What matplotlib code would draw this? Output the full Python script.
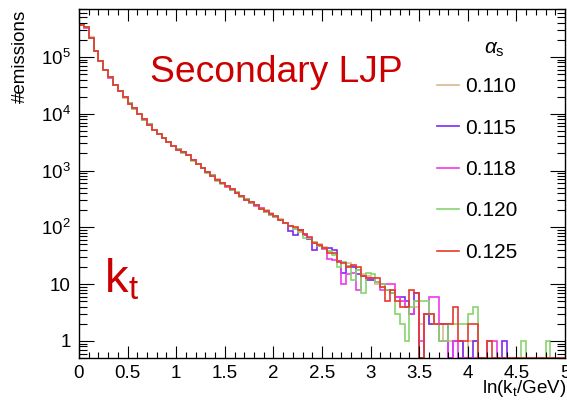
import numpy as np
import matplotlib
matplotlib.use("Agg")
import matplotlib.pyplot as plt
from matplotlib.ticker import MultipleLocator, LogLocator, FuncFormatter, NullFormatter

plt.rcParams['font.family'] = ['Liberation Sans', 'DejaVu Sans']
plt.rcParams['mathtext.fontset'] = 'custom'
plt.rcParams['mathtext.rm'] = 'Liberation Sans'
plt.rcParams['mathtext.it'] = 'Liberation Sans:italic'
plt.rcParams['mathtext.sf'] = 'Liberation Sans'

# Histogram binning in ln(kt/GeV)
x_min, x_max, n_bins = 0.0, 5.0, 100

alpha_labels = ["0.110", "0.115", "0.118", "0.120", "0.125"]

counts_0110 = [369500, 333000, 220400, 127500, 85800, 58400, 44000, 32100, 25350, 19300,
               15260, 12350, 9850, 7860, 6520, 5200, 4400, 3680, 3190, 2660,
               2370, 2060, 1890, 1535, 1280, 1115, 915, 830, 700, 610,
               535, 458, 415, 345, 318, 270, 252, 220, 200, 182,
               160, 138, 121, 106, 96, 90, 75, 66, 56, 50,
               45, 38, 34, 26, 25, 24, 21, 18, 15, 14,
               12, 10, 9, 8, 8, 6, 5, 4, 3, 4,
               2, 3, 2, 2, 2, 1, 1, 1, 1, 0,
               1, 1, 0, 0, 0, 0, 0, 0, 0, 0,
               0, 0, 0, 0, 0, 0, 0, 0, 0, 0]

counts_0115 = [370800, 331900, 219500, 128300, 85400, 58700, 43800, 32250, 25200, 19430,
               15190, 12400, 9800, 7910, 6480, 5230, 4380, 3700, 3170, 2680,
               2350, 2080, 1870, 1545, 1300, 1095, 925, 820, 680, 600,
               528, 462, 410, 350, 312, 272, 248, 210, 188, 166,
               150, 133, 118, 86, 72, 88, 74, 62, 40, 47,
               44, 43, 40, 26, 16, 21, 20, 15, 14, 12,
               12, 11, 10, 8, 7, 6, 6, 5, 3, 7,
               0, 3, 2, 2, 2, 2, 0, 1, 1, 0,
               0, 1, 0, 0, 0, 0, 0, 1, 0, 0,
               0, 0, 0, 0, 0, 0, 0, 0, 0, 0]

counts_0118 = [372100, 330500, 218300, 129100, 84900, 59100, 43500, 32480, 25050, 19560,
               15100, 12500, 9740, 7960, 6440, 5270, 4350, 3730, 3150, 2700,
               2330, 2100, 1850, 1560, 1310, 1090, 940, 805, 695, 598,
               520, 470, 400, 358, 305, 278, 240, 216, 193, 172,
               152, 136, 119, 104, 95, 86, 74, 64, 54, 47,
               42, 28, 27, 26, 10, 15, 16, 8, 14, 13,
               13, 11, 8, 10, 10, 6, 5, 4, 3, 5,
               1, 3, 6, 6, 1, 1, 0, 1, 0, 0,
               0, 0, 0, 0, 1, 1, 0, 0, 0, 0,
               0, 0, 0, 0, 0, 0, 0, 0, 0, 0]

counts_0120 = [370200, 332400, 219900, 127900, 85600, 58600, 43900, 32200, 25300, 19380,
               15230, 12380, 9820, 7880, 6500, 5220, 4390, 3690, 3180, 2670,
               2360, 2070, 1880, 1500, 1285, 1105, 920, 825, 665, 580,
               530, 460, 412, 348, 315, 268, 250, 208, 186, 164,
               155, 135, 118, 104, 94, 84, 66, 64, 55, 47,
               44, 38, 33, 20, 25, 21, 12, 18, 7, 16,
               15, 11, 10, 8, 7, 3, 2, 1, 4, 5,
               5, 5, 3, 2, 1, 1, 2, 2, 2, 2,
               3, 4, 0, 0, 0, 0, 0, 0, 0, 0,
               0, 1, 0, 0, 0, 0, 1, 0, 0, 0]

counts_0125 = [371500, 331100, 218800, 128800, 85100, 58900, 43650, 32360, 25120, 19500,
               15140, 12450, 9770, 7940, 6460, 5250, 4365, 3715, 3160, 2690,
               2340, 2090, 1860, 1550, 1290, 1100, 933, 813, 692, 603,
               525, 468, 407, 355, 309, 275, 245, 214, 191, 170,
               158, 137, 120, 107, 100, 89, 76, 68, 52, 48,
               43, 36, 35, 25, 24, 20, 22, 20, 14, 13,
               13, 13, 9, 5, 8, 5, 4, 4, 8, 7,
               0, 3, 3, 2, 2, 2, 2, 4, 1, 1,
               2, 2, 0, 0, 1, 0, 0, 0, 0, 0,
               0, 0, 0, 0, 0, 0, 0, 0, 0, 0]

series = [counts_0110, counts_0115, counts_0118, counts_0120, counts_0125]
colors = ["#D9B98F", "#7B2BF0", "#EE3BEA", "#86D66E", "#E53A2F"]

y_lo, y_hi = 0.5, 7.0e5

fig = plt.figure(figsize=(5.67, 4.0), dpi=100)
ax = fig.add_axes([79 / 567, 42 / 400, 486 / 567, 349 / 400])

edges = np.linspace(x_min, x_max, n_bins + 1)
handles = []
for counts, col, lab in zip(series, colors, alpha_labels):
    c = np.asarray(counts, dtype=float)
    # empty bins sit on the lower frame edge of the log axis
    c = np.where(c > 0, c, y_lo)
    h = ax.stairs(c, edges, color=col, lw=1.2, baseline=None, label=lab)
    handles.append(h)

ax.set_yscale('log')
ax.set_xlim(x_min, x_max)
ax.set_ylim(y_lo, y_hi)

ax.xaxis.set_major_locator(MultipleLocator(0.5))
ax.xaxis.set_minor_locator(MultipleLocator(0.1))
ax.xaxis.set_major_formatter(FuncFormatter(lambda v, p: f"{v:g}"))

def ylab(v, p):
    e = int(round(np.log10(v)))
    if e == 0:
        return "1"
    if e == 1:
        return "10"
    return r"$\mathregular{10^{%d}}$" % e

ax.yaxis.set_major_locator(LogLocator(base=10, numticks=20))
ax.yaxis.set_minor_locator(LogLocator(base=10, subs=np.arange(2, 10), numticks=50))
ax.yaxis.set_major_formatter(FuncFormatter(ylab))
ax.yaxis.set_minor_formatter(NullFormatter())

ax.tick_params(which='both', direction='in', top=True, right=True, width=0.8, labelsize=13.5)
ax.tick_params(axis='x', which='major', length=8.5, pad=5)
ax.tick_params(axis='x', which='minor', length=4.3)
ax.tick_params(axis='y', which='major', length=11, pad=6)
ax.tick_params(axis='y', which='minor', length=5.5)
for s in ax.spines.values():
    s.set_linewidth(1.0)

# axis titles, ROOT style at the axis ends
fig.text(0.999, 1 - 393 / 400, r"ln(k$_\mathregular{t}$/GeV)", ha='right', va='baseline', fontsize=13.5)
fig.text(20 / 567, 1 - 10 / 400, "#emissions", rotation=90, ha='center', va='top', fontsize=13.5)

# annotations
fig.text(150 / 567, 1 - 82 / 400, "Secondary LJP", color="#CC0000", fontsize=26.8, ha='left', va='baseline')
fig.text(104 / 567, 1 - 292 / 400, r"$\mathregular{k_t}$", color="#CC0000", fontsize=34, ha='left', va='baseline')

# legend
fig.text(494 / 567, 1 - 50 / 400, r"$\alpha_\mathregular{s}$", fontsize=15, ha='center', va='center')
ax.legend(handles=handles, labels=alpha_labels, loc='upper left',
          bbox_to_anchor=(437 / 567, 1 - 77 / 400), bbox_transform=fig.transFigure,
          frameon=False, fontsize=15, handlelength=1.05, handletextpad=0.3,
          labelspacing=1.08, borderpad=0, borderaxespad=0)

fig.savefig("out.png", dpi=100)
